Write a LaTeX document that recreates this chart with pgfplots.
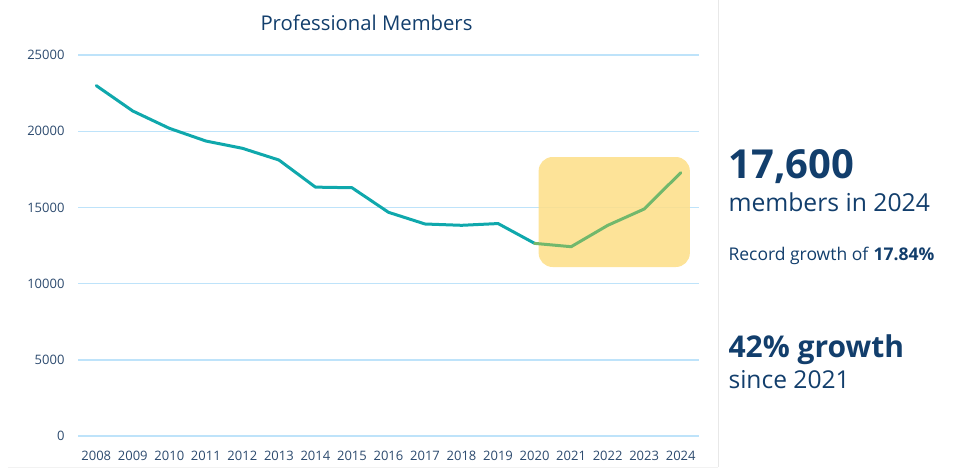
\documentclass[border=0pt]{standalone}
\usepackage{pgfplots}
\pgfplotsset{compat=1.18}
\usepackage{fontspec}
\setmainfont{Open Sans}
\definecolor{navy}{HTML}{123E6C}
\definecolor{tickcol}{HTML}{2C4A6E}
\definecolor{myteal}{HTML}{0FA8AC}
\definecolor{mygreen}{HTML}{72B86C}
\definecolor{boxyellow}{HTML}{FDDF8A}
\definecolor{gridcol}{HTML}{BEE3FA}
\begin{document}
\begin{tikzpicture}
\path[use as bounding box] (0,0) rectangle (956pt,475pt);
\draw[color=black!9, line width=1pt] (718pt,8pt) -- (718pt,475pt);
\draw[color=black!5, line width=0.8pt] (8pt,8pt) -- (718pt,8pt);
\node[anchor=base, text=navy, font=\fontsize{20.3}{24}\selectfont] at (366.5pt,444pt) {Professional Members};
\begin{axis}[
  at={(78pt,39pt)}, anchor=south west,
  scale only axis, width=621pt, height=381pt,
  xmin=2007.5, xmax=2024.5, ymin=0, ymax=25000,
  axis line style={draw=none},
  tick style={draw=none},
  ymajorgrids, grid style={gridcol, line width=1.4pt},
  xtick={2008,...,2024}, ytick={0,5000,10000,15000,20000,25000},
  scaled y ticks=false,
  /pgf/number format/assume math mode=true,
  /pgf/number format/1000 sep={},
  tick label style={font=\fontsize{13}{15}\selectfont, text=tickcol},
  yticklabel style={xshift=-10pt},
  xticklabel style={yshift=-12pt},
  clip=false,
]
\fill[boxyellow, rounded corners=14pt, opacity=0.88] (axis cs:2020.11,11089) rectangle (axis cs:2024.25,18307);
\addplot[myteal, line width=3pt, line join=round, line cap=round] coordinates {
(2008,22990) (2009,21325) (2010,20190) (2011,19357) (2012,18878) (2013,18110)
(2014,16330) (2015,16290) (2016,14678) (2017,13911) (2018,13825) (2019,13940) (2020,12640)
};
\addplot[mygreen, line width=3pt, line join=round, line cap=round] coordinates {
(2020,12640) (2021,12421) (2022,13820) (2023,14895) (2024,17277)
};
\end{axis}
\node[anchor=base west, text=navy, font=\fontsize{40}{44}\selectfont\bfseries] at (725pt,297pt) {17,600};
\node[anchor=base west, text=navy, font=\fontsize{24.7}{28}\selectfont] at (725pt,264pt) {members in 2024};
\node[anchor=base west, text=navy, font=\fontsize{17.5}{20}\selectfont] at (725pt,215pt) {Record growth of \textbf{17.84\%}};
\node[anchor=base west, text=navy, font=\fontsize{30}{34}\selectfont\bfseries] at (725pt,118pt) {42\% growth};
\node[anchor=base west, text=navy, font=\fontsize{24.6}{28}\selectfont] at (725pt,87pt) {since 2021};
\end{tikzpicture}
\end{document}
